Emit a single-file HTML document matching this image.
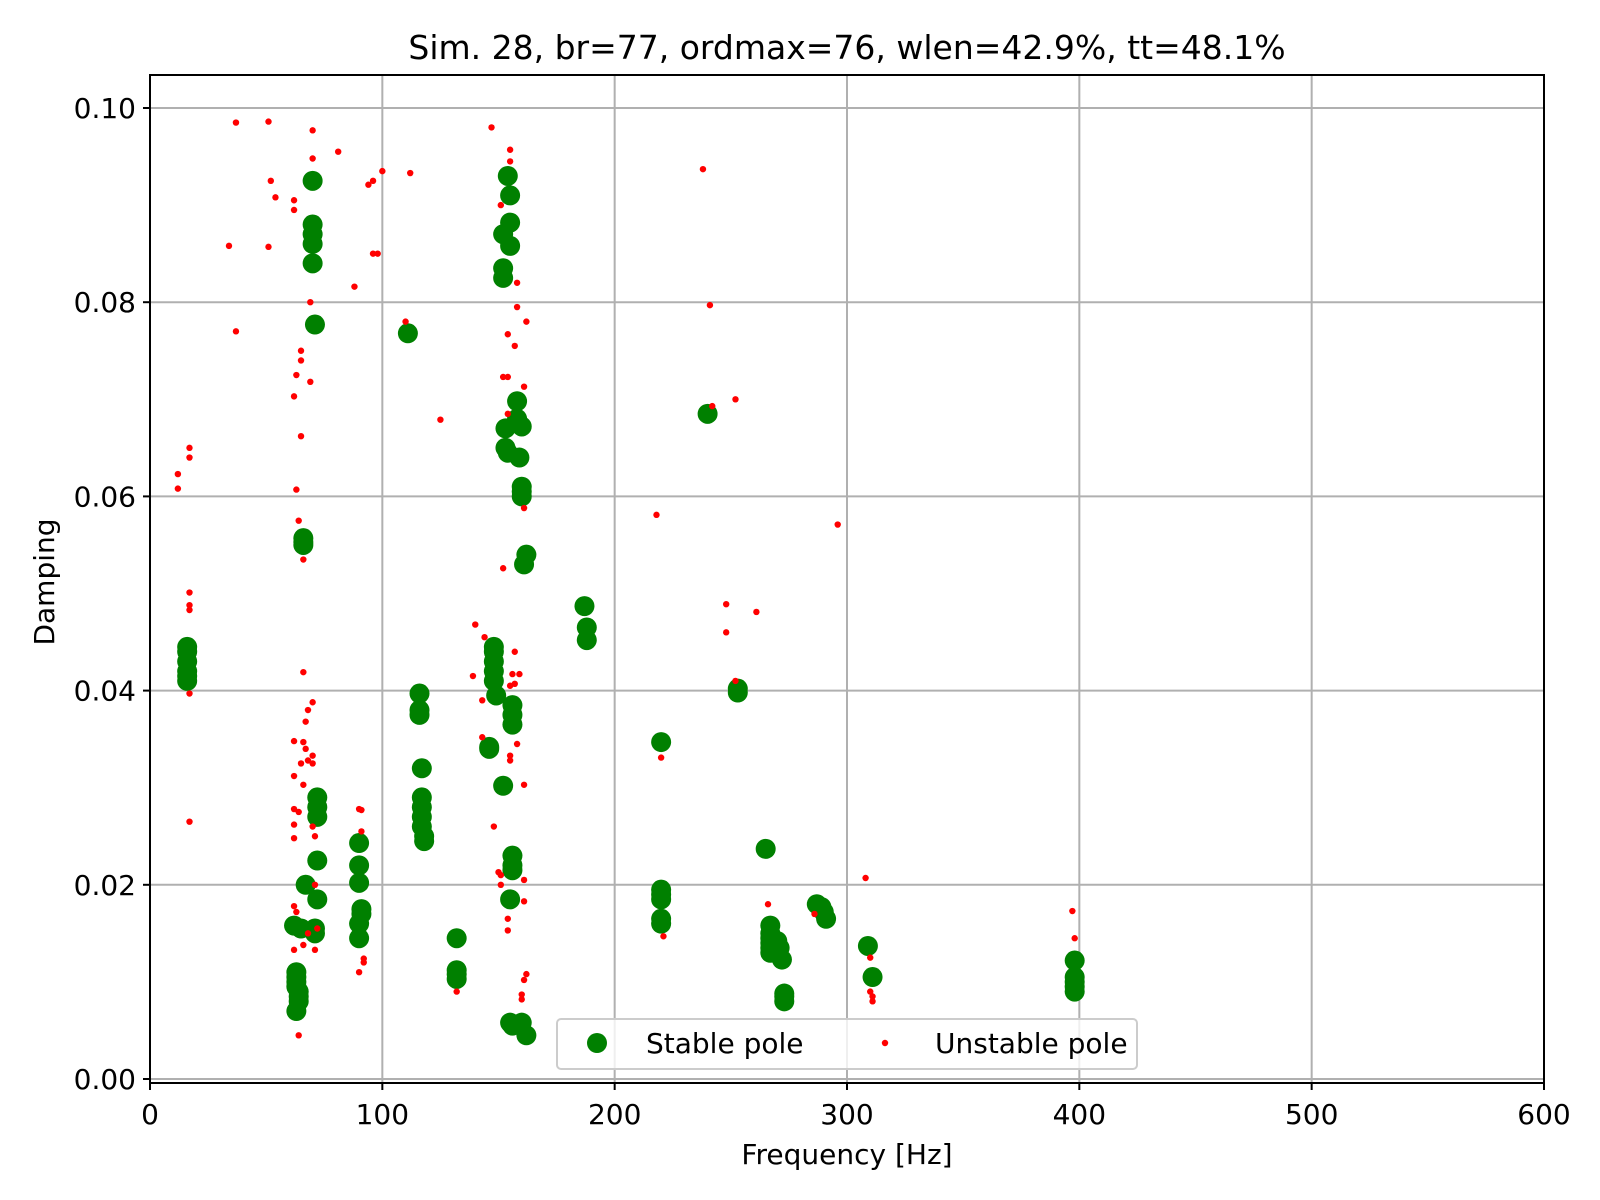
<!DOCTYPE html>
<html><head><meta charset="utf-8"><style>
html,body{margin:0;padding:0;background:#fff;}
svg{display:block;font-family:"DejaVu Sans","Liberation Sans",sans-serif;}
</style></head><body>
<svg id="chart" width="1600" height="1200" viewBox="0 0 1600 1200">
<g id="grid"></g>
<g id="pts"></g>
<g id="axes"></g>
<text x="847" y="59" font-size="33" text-anchor="middle">Sim. 28, br=77, ordmax=76, wlen=42.9%, tt=48.1%</text>
<text x="847" y="1164" font-size="28" text-anchor="middle">Frequency [Hz]</text>
<text x="0" y="0" font-size="28" text-anchor="middle" transform="translate(54,582) rotate(-90)">Damping</text>
<g>
<rect x="557" y="1019" width="580" height="50" rx="4" fill="#fff" fill-opacity="0.8" stroke="#ccc" stroke-width="2"/>
<circle cx="597" cy="1043" r="10" fill="#008000"/>
<text x="646" y="1053" font-size="28">Stable pole</text>
<circle cx="885" cy="1043" r="3.2" fill="#ff0000"/>
<text x="935" y="1053" font-size="28">Unstable pole</text>
</g>
</svg>
<script>
const xTicks=[0,100,200,300,400,500,600];
const yTicks=[0,0.02,0.04,0.06,0.08,0.10];
const yTickLabels=["0.00","0.02","0.04","0.06","0.08","0.10"];
const stableFreq=[16,16,16,16,16,16,70,70,70,70,70,71,66,66,66,62,65,63,63,63,63,64,64,64,63,67,72,72,72,72,72,71,71,90,90,90,91,91,90,90,111,116,116,116,117,117,117,117,117,118,118,132,132,132,132,146,146,148,148,148,148,148,149,152,154,155,155,152,155,152,152,153,153,154,158,158,160,159,160,160,160,162,161,156,156,156,156,156,156,155,155,156,160,162,187,188,188,220,220,220,220,220,220,240,253,253,265,267,267,267,267,267,267,270,271,272,273,273,273,287,289,290,291,309,311,398,398,398,398,398];
const stableDamp=[0.0445,0.044,0.043,0.042,0.0415,0.041,0.0925,0.088,0.087,0.086,0.084,0.0777,0.0557,0.0553,0.055,0.0158,0.0155,0.011,0.0105,0.01,0.0095,0.009,0.0085,0.008,0.007,0.02,0.0225,0.029,0.028,0.027,0.0185,0.0155,0.015,0.0243,0.022,0.0202,0.0175,0.017,0.016,0.0145,0.0768,0.0397,0.038,0.0375,0.032,0.029,0.028,0.027,0.026,0.025,0.0245,0.0145,0.0112,0.0108,0.0103,0.0342,0.034,0.0445,0.044,0.043,0.042,0.041,0.0395,0.0302,0.093,0.091,0.0882,0.087,0.0858,0.0835,0.0825,0.067,0.065,0.0645,0.0698,0.068,0.0672,0.064,0.061,0.0605,0.06,0.054,0.053,0.0385,0.0375,0.0365,0.023,0.022,0.0215,0.0185,0.0058,0.0055,0.0058,0.0045,0.0487,0.0465,0.0452,0.0347,0.0195,0.019,0.0185,0.0165,0.016,0.0685,0.0402,0.0398,0.0237,0.0158,0.015,0.0145,0.014,0.0135,0.013,0.0142,0.0135,0.0123,0.0088,0.0085,0.008,0.018,0.0177,0.0172,0.0165,0.0137,0.0105,0.0122,0.0105,0.01,0.0095,0.009];
const unstableFreq=[37,51,70,147,155,238,100,112,81,52,94,96,54,62,62,70,155,151,34,51,96,98,88,69,158,158,241,37,110,162,154,157,65,65,63,69,152,154,161,62,252,242,125,154,65,17,17,12,12,63,161,218,296,64,66,152,17,17,17,248,261,140,248,144,17,66,139,252,143,70,68,67,156,159,157,155,143,157,62,66,67,68,70,65,70,62,66,155,155,158,161,220,17,62,64,90,91,62,62,71,70,148,91,150,151,161,151,71,266,154,154,161,62,63,68,66,62,71,286,308,221,92,92,90,132,162,161,160,160,64,310,310,311,311,397,398,72];
const unstableDamp=[0.0985,0.0986,0.0977,0.098,0.0957,0.0937,0.0935,0.0933,0.0955,0.0925,0.0921,0.0925,0.0908,0.0905,0.0895,0.0948,0.0945,0.090,0.0858,0.0857,0.085,0.085,0.0816,0.080,0.082,0.0795,0.0797,0.077,0.078,0.078,0.0767,0.0755,0.075,0.074,0.0725,0.0718,0.0723,0.0723,0.0713,0.0703,0.070,0.0693,0.0679,0.0685,0.0662,0.065,0.064,0.0623,0.0608,0.0607,0.0588,0.0581,0.0571,0.0575,0.0535,0.0526,0.0501,0.0488,0.0483,0.0489,0.0481,0.0468,0.046,0.0455,0.0397,0.0419,0.0415,0.041,0.039,0.0388,0.038,0.0368,0.0417,0.0417,0.0407,0.0405,0.0352,0.044,0.0348,0.0347,0.034,0.0328,0.0333,0.0325,0.0325,0.0312,0.0303,0.0333,0.0328,0.0345,0.0303,0.0331,0.0265,0.0278,0.0275,0.0278,0.0277,0.0262,0.0248,0.025,0.026,0.026,0.0255,0.0213,0.021,0.0205,0.02,0.02,0.018,0.0165,0.0153,0.0183,0.0178,0.0172,0.015,0.0138,0.0133,0.0133,0.017,0.0207,0.0147,0.0124,0.012,0.011,0.009,0.0108,0.0102,0.0087,0.0082,0.0045,0.0125,0.009,0.0085,0.008,0.0173,0.0145,0.0155];

const L=150,R=1544,T=75,B=1083;
function xs(v){return L+(v/600)*(R-L);}
function ys(v){return 1079-(v/0.1)*(1079-108);}
const NS="http://www.w3.org/2000/svg";
function mk(tag,attrs,parent){const e=document.createElementNS(NS,tag);for(const k in attrs)e.setAttribute(k,attrs[k]);parent.appendChild(e);return e;}
const grid=document.getElementById('grid'),axes=document.getElementById('axes'),pts=document.getElementById('pts');
xTicks.forEach((t,i)=>{
  const x=xs(t);
  const g=mk('line',{x1:x,x2:x,y1:T,y2:B,stroke:'#b0b0b0','stroke-width':2},grid);
  
  
  const tk=mk('line',{x1:x,x2:x,y1:B,y2:B+7,stroke:'#000','stroke-width':2},axes);
  
  
  const tx=mk('text',{x:x,y:B+41,'font-size':28,'text-anchor':'middle'},axes);
  tx.textContent=String(t);
  
  
});
yTicks.forEach((t,i)=>{
  const y=ys(t);
  const g=mk('line',{x1:L,x2:R,y1:y,y2:y,stroke:'#b0b0b0','stroke-width':2},grid);
  
  
  const tk=mk('line',{x1:L-7,x2:L,y1:y,y2:y,stroke:'#000','stroke-width':2},axes);
  
  
  const tx=mk('text',{x:L-14,y:y+10,'font-size':28,'text-anchor':'end'},axes);
  tx.textContent=yTickLabels[i];
  
  
});
const fr=mk('rect',{x:L,y:T,width:R-L,height:B-T,fill:'none',stroke:'#000','stroke-width':2},axes);


stableFreq.forEach((f,i)=>{
  const c=mk('circle',{cx:xs(f),cy:ys(stableDamp[i]),r:10,fill:'#008000'},pts);
  
  
});
unstableFreq.forEach((f,i)=>{
  const c=mk('circle',{cx:xs(f),cy:ys(unstableDamp[i]),r:3.2,fill:'#ff0000'},pts);
  
  
});
</script>
</body></html>
